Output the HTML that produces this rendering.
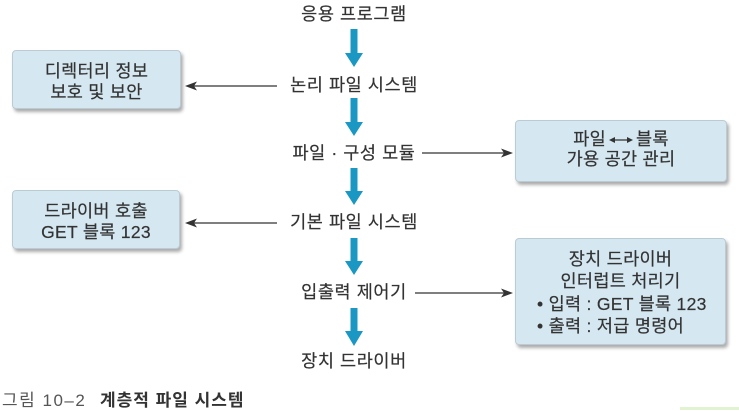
<!DOCTYPE html>
<html>
<head>
<meta charset="utf-8">
<style>
  html, body { margin:0; padding:0; }
  body { width:739px; height:410px; background:#fff; position:relative; overflow:hidden;
         font-family:"Liberation Sans","Noto Sans CJK KR",sans-serif; color:#333; }
  .lbl { position:absolute; left:204px; width:300px; text-align:center; font-size:17.5px; letter-spacing:0.6px; line-height:20px; white-space:nowrap; -webkit-text-stroke:0.2px #333; }
  .box { position:absolute; background:#d5e7f0; border:1px solid #bccbd3; border-radius:4px;
         box-shadow:2px 3px 3px rgba(70,70,70,0.45); box-sizing:border-box; font-size:17.5px; letter-spacing:0.3px; color:#333; -webkit-text-stroke:0.2px #333; }
  .line { position:absolute; left:0; width:100%; text-align:center; white-space:nowrap; line-height:20px; }
  svg { position:absolute; left:0; top:0; }
</style>
</head>
<body>

<svg width="739" height="410" viewBox="0 0 739 410">
  <g fill="#1a97c2">
    <rect x="350.5" y="29" width="7" height="26"/>
    <polygon points="345,53 363,53 354,67"/>
    <rect x="350.5" y="98" width="7" height="26"/>
    <polygon points="345,122 363,122 354,136"/>
    <rect x="350.5" y="168" width="7" height="25"/>
    <polygon points="345,191 363,191 354,205"/>
    <rect x="350.5" y="238" width="7" height="25"/>
    <polygon points="345,261 363,261 354,275"/>
    <rect x="350.5" y="308" width="7" height="25"/>
    <polygon points="345,331 363,331 354,346"/>
  </g>
  <g stroke="#333" stroke-width="1.2" fill="none">
    <line x1="277" y1="86" x2="193" y2="86"/>
    <line x1="422" y1="153" x2="505" y2="153"/>
    <line x1="277" y1="223" x2="193" y2="223"/>
    <line x1="415" y1="293" x2="505" y2="293"/>
  </g>
  <g fill="#333">
    <polygon points="185,86 197,81.5 194,86 197,90.5"/>
    <polygon points="513,153 501,148.5 504,153 501,157.5"/>
    <polygon points="185,223 197,218.5 194,223 197,227.5"/>
    <polygon points="513,293 501,288.5 504,293 501,297.5"/>
  </g>
  <rect x="680" y="407" width="59" height="3" fill="#e2f3d2"/>
</svg>

<div class="lbl" style="top:4px;">응용 프로그램</div>
<div class="lbl" style="top:75px;">논리 파일 시스템</div>
<div class="lbl" style="top:143px;">파일 · 구성 모듈</div>
<div class="lbl" style="top:212px;">기본 파일 시스템</div>
<div class="lbl" style="top:282px;">입출력 제어기</div>
<div class="lbl" style="top:351px;">장치 드라이버</div>

<div class="box" style="left:12px; top:50px; width:169px; height:59px;">
  <div class="line" style="top:10px;">디렉터리 정보</div>
  <div class="line" style="top:31px;">보호 및 보안</div>
</div>

<div class="box" style="left:515px; top:120px; width:212px; height:62px;">
  <div class="line" style="top:8px;">파일<svg style="position:relative;display:inline-block;vertical-align:middle;left:auto;top:auto;margin:0 3px;" width="24" height="10" viewBox="0 0 24 10"><line x1="3" y1="5" x2="21" y2="5" stroke="#333" stroke-width="1.2"/><polygon points="0,5 6,2 6,8" fill="#333"/><polygon points="24,5 18,2 18,8" fill="#333"/></svg>블록</div>
  <div class="line" style="top:28px;">가용 공간 관리</div>
</div>

<div class="box" style="left:12px; top:190px; width:168px; height:59px;">
  <div class="line" style="top:10px;">드라이버 호출</div>
  <div class="line" style="top:31px;">GET 블록 123</div>
</div>

<div class="box" style="left:515px; top:238px; width:211px; height:107px;">
  <div class="line" style="top:10px;">장치 드라이버</div>
  <div class="line" style="top:32px;">인터럽트 처리기</div>
  <div class="line" style="top:55px; left:21px; text-align:left;">• 입력 : GET 블록 123</div>
  <div class="line" style="top:77px; left:21px; text-align:left;">• 출력 : 저급 명령어</div>
</div>

<div style="position:absolute; left:2px; top:386px; font-size:17px; color:#555; white-space:nowrap; letter-spacing:1.5px;">그림 10–2</div>
<div style="position:absolute; left:100px; top:386px; font-size:17px; font-weight:bold; color:#333; white-space:nowrap; letter-spacing:1px;">계층적 파일 시스템</div>

</body>
</html>
